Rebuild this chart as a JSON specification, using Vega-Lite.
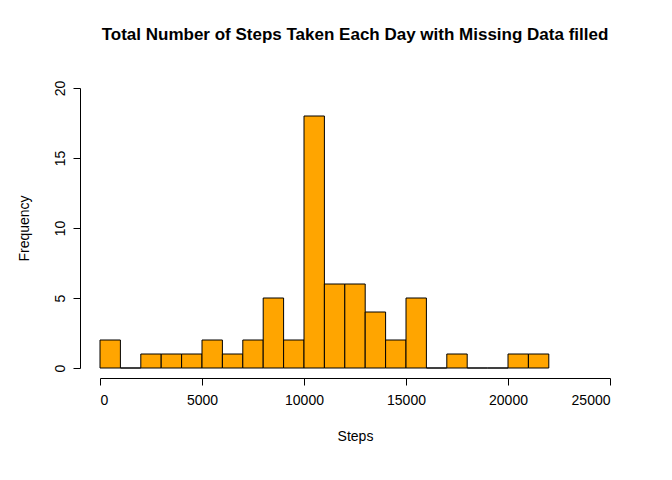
{
  "$schema": "https://vega.github.io/schema/vega-lite/v6.json",
  "autosize": {"type": "none"},
  "width": 510,
  "height": 280,
  "padding": {"left": 100, "top": 88, "right": 62, "bottom": 112},
  "background": "white",
  "config": {
    "view": {"stroke": null},
    "font": "Liberation Sans",
    "axis": {"grid": false, "domainColor": "black", "tickColor": "black", "labelColor": "black", "titleColor": "black", "labelFontSize": 14, "titleFontSize": 14, "titleFontWeight": "normal", "tickSize": 7}
  },
  "title": {"text": "Total Number of Steps Taken Each Day with Missing Data filled", "fontSize": 17, "fontWeight": "bold", "anchor": "middle", "frame": "group", "offset": 36, "color": "black"},
  "data": {"values": [
    {"start": 0, "end": 1000, "count": 2},
    {"start": 1000, "end": 2000, "count": 0},
    {"start": 2000, "end": 3000, "count": 1},
    {"start": 3000, "end": 4000, "count": 1},
    {"start": 4000, "end": 5000, "count": 1},
    {"start": 5000, "end": 6000, "count": 2},
    {"start": 6000, "end": 7000, "count": 1},
    {"start": 7000, "end": 8000, "count": 2},
    {"start": 8000, "end": 9000, "count": 5},
    {"start": 9000, "end": 10000, "count": 2},
    {"start": 10000, "end": 11000, "count": 18},
    {"start": 11000, "end": 12000, "count": 6},
    {"start": 12000, "end": 13000, "count": 6},
    {"start": 13000, "end": 14000, "count": 4},
    {"start": 14000, "end": 15000, "count": 2},
    {"start": 15000, "end": 16000, "count": 5},
    {"start": 16000, "end": 17000, "count": 0},
    {"start": 17000, "end": 18000, "count": 1},
    {"start": 18000, "end": 19000, "count": 0},
    {"start": 19000, "end": 20000, "count": 0},
    {"start": 20000, "end": 21000, "count": 1},
    {"start": 21000, "end": 22000, "count": 1}
  ]},
  "mark": {"type": "bar", "fill": "orange", "stroke": "black", "strokeWidth": 1},
  "encoding": {
    "x": {"field": "start", "type": "quantitative", "scale": {"domain": [0, 25000], "nice": false}, "title": "Steps",
      "axis": {"values": [0, 5000, 10000, 15000, 20000, 25000], "format": "d", "offset": 10, "labelPadding": 8, "titlePadding": 22}},
    "x2": {"field": "end"},
    "y": {"field": "count", "type": "quantitative", "scale": {"domain": [0, 20], "nice": false}, "title": "Frequency",
      "axis": {"values": [0, 5, 10, 15, 20], "offset": 20, "labelAngle": -90, "labelAlign": "center", "labelBaseline": "bottom", "labelPadding": 6, "titlePadding": 22}},
    "y2": {"datum": 0}
  }
}
